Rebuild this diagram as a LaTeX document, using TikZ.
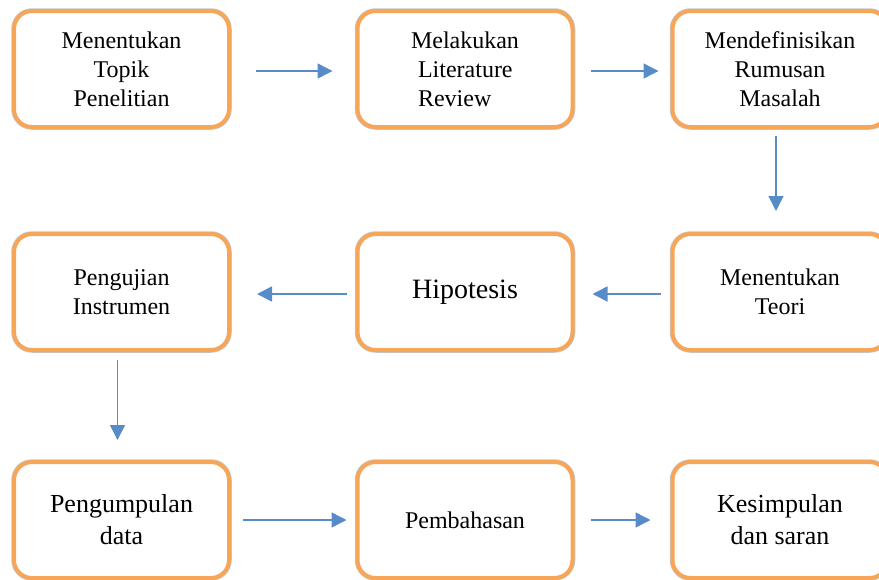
\documentclass[tikz,border=0pt]{standalone}
\usepackage{fontspec}
\setmainfont{Liberation Serif}
\usetikzlibrary{arrows.meta, positioning}
\definecolor{boxorange}{RGB}{247,166,89}
\definecolor{arrblue}{RGB}{88,140,200}
\tikzset{
  stepbox/.style={rounded corners=18pt, draw=boxorange, line width=4pt, fill=white,
                  minimum width=215pt, minimum height=116pt, align=center,
                  font=\fontsize{24}{29}\selectfont,
                  preaction={draw=gray!45, line width=5.5pt}},
  arr/.style={-{Triangle[length=15pt, width=15pt]}, draw=arrblue, line width=1.5pt},
}

\begin{document}
\begin{tikzpicture}[x=1pt, y=-1pt]
\useasboundingbox (0,0) rectangle (879,579);

% first row
\node[stepbox] (topik) at (121.5,69) {Menentukan\\Topik\\Penelitian};
\node[stepbox, align=left] (review) at (465,69)
  {Melakukan\\\hspace{7pt}Literature\\\hspace{7pt}Review};
\node[stepbox] (rumusan) at (780,69) {Mendefinisikan\\Rumusan\\Masalah};

% second row
\node[stepbox] (teori) at (780,292) {Menentukan\\Teori};
\node[stepbox, font=\fontsize{28}{34}\selectfont] (hipotesis) at (465,292) {Hipotesis};
\node[stepbox] (instrumen) at (121.5,292) {Pengujian\\Instrumen};

% third row
\node[stepbox, font=\fontsize{26}{32}\selectfont] (data) at (121.5,520) {Pengumpulan\\data};
\node[stepbox] (bahas) at (465,520) {Pembahasan};
\node[stepbox, font=\fontsize{26}{32}\selectfont] (simpulan) at (780,520) {Kesimpulan\\dan saran};

\draw[arr, shorten <=25pt, shorten >=23pt] ([yshift=-2pt]topik.east) -- ([yshift=-2pt]review.west);
\draw[arr, shorten <=16pt, shorten >=12pt] ([yshift=-2pt]review.east) -- ([yshift=-2pt]rumusan.west);
\draw[arr, shorten <=7pt, shorten >=21pt] ([xshift=-4pt]rumusan.south) -- ([xshift=-4pt]teori.north);
\draw[arr, shorten <=10pt, shorten >=18pt] ([yshift=-2pt]teori.west) -- ([yshift=-2pt]hipotesis.east);
\draw[arr, shorten <=9pt, shorten >=26pt] ([yshift=-2pt]hipotesis.west) -- ([yshift=-2pt]instrumen.east);
\draw[arr, shorten <=8pt, shorten >=20pt] ([xshift=-4pt]instrumen.south) -- ([xshift=-4pt]data.north);
\draw[arr, shorten <=12pt, shorten >=9pt] (data) -- (bahas);
\draw[arr, shorten <=16pt, shorten >=20pt] (bahas) -- (simpulan);
\end{tikzpicture}
\end{document}
